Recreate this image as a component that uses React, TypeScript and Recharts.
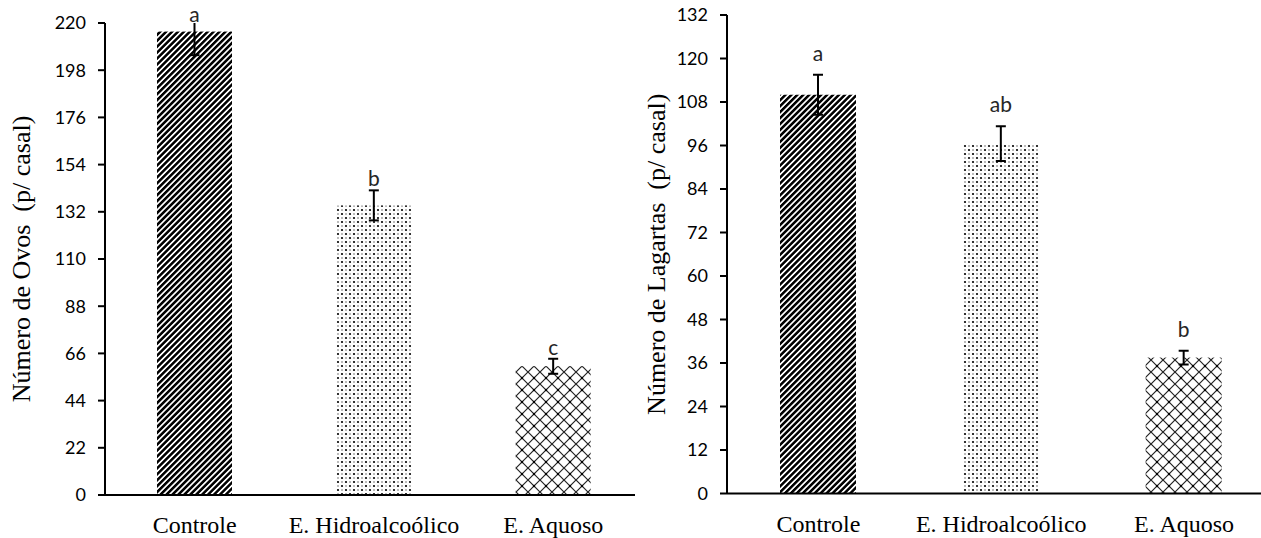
import React from 'react';
import { BarChart, Bar, XAxis, YAxis, Cell, LabelList } from 'recharts';

const categories = ['Controle', 'E. Hidroalcoólico', 'E. Aquoso'];

// Número de ovos (p/ casal)
const ovos = [216, 135, 60];
const ovosErr = [11, 7, 3.5];
const ovosLetters = ['a', 'b', 'c'];
const ovosTicks = [0, 22, 44, 66, 88, 110, 132, 154, 176, 198, 220];

// Número de lagartas (p/ casal)
const lagartas = [110, 96.5, 37.5];
const lagartasErr = [5.5, 4.8, 1.9];
const lagartasLetters = ['a', 'ab', 'b'];
const lagartasTicks = [0, 12, 24, 36, 48, 60, 72, 84, 96, 108, 120, 132];

const patternKeys = ['stripes', 'dots', 'lattice'];

const serif = '"Liberation Serif", "Times New Roman", serif';
const sans = 'Lato, "Open Sans", sans-serif';

function Patterns({ prefix }: { prefix: string }) {
  return (
    <defs>
      <pattern id={`${prefix}-stripes`} patternUnits="userSpaceOnUse" width={4.2} height={4.2} patternTransform="rotate(45)">
        <rect width={4.2} height={4.2} fill="#fff" />
        <rect width={2.5} height={4.2} fill="#000" />
      </pattern>
      <pattern id={`${prefix}-dots`} patternUnits="userSpaceOnUse" width={8} height={8}>
        <rect width={8} height={8} fill="#fff" />
        <circle cx={2} cy={2} r={1.1} fill="#000" />
        <circle cx={6} cy={6} r={1.1} fill="#000" />
        <circle cx={6} cy={2} r={0.7} fill="#444" />
        <circle cx={2} cy={6} r={0.7} fill="#444" />
      </pattern>
      <pattern id={`${prefix}-lattice`} patternUnits="userSpaceOnUse" width={12} height={12}>
        <rect width={12} height={12} fill="#fff" />
        <path d="M0 0 L12 12 M12 0 L0 12" stroke="#222" strokeWidth={1.2} />
        <circle cx={6} cy={6} r={1.2} fill="#000" />
      </pattern>
    </defs>
  );
}

function YTitle({ viewBox, text, dx }: any) {
  const cx = viewBox.x + dx;
  const cy = viewBox.y + viewBox.height / 2;
  return (
    <text x={cx} y={cy} transform={`rotate(-90 ${cx} ${cy})`} textAnchor="middle" fontFamily={serif} fontSize={26} fill="#000" style={{ whiteSpace: 'pre' }}>
      {text}
    </text>
  );
}

function CatTick({ x, y, payload }: any) {
  return (
    <text x={x} y={y + 15} textAnchor="middle" fontFamily={serif} fontSize={24} fill="#000" style={{ fontFamily: serif }}>
      {payload.value}
    </text>
  );
}

// bar rectangle + error bar, clipped to the plot area like the original
const makeBarShape = (errs: number[], values: number[], plotTop: number) => (props: any) => {
  const { x, y, width, height, fill, index } = props;
  const perUnit = height / values[index];
  const cx = x + width / 2;
  const hi = y - errs[index] * perUnit;
  const lo = y + errs[index] * perUnit;
  const top = Math.max(hi, plotTop);
  return (
    <g>
      <rect x={x} y={y} width={width} height={height} fill={fill} />
      <line x1={cx} x2={cx} y1={top} y2={lo} stroke="#000" strokeWidth={2} />
      {hi >= plotTop && <line x1={cx - 5} x2={cx + 5} y1={hi} y2={hi} stroke="#000" strokeWidth={2} />}
      <line x1={cx - 5} x2={cx + 5} y1={lo} y2={lo} stroke="#000" strokeWidth={2} />
    </g>
  );
};

const makeLetter = (letters: string[], errs: number[], values: number[], gap: number) => (props: any) => {
  const { x, y, width, height, index } = props;
  const perUnit = height / values[index];
  const base = Math.max(y - errs[index] * perUnit - gap, 22);
  return (
    <text x={x + width / 2} y={base} textAnchor="middle" fontFamily={sans} fontSize={21} fill="#262626">
      {letters[index]}
    </text>
  );
};

interface PanelProps {
  prefix: string;
  values: number[];
  errs: number[];
  letters: string[];
  ticks: number[];
  title: string;
  top: number;
  bottom: number;
  yWidth: number;
  right: number;
  barSize: number;
  gap: number;
  titleDx: number;
}

function Panel({ prefix, values, errs, letters, ticks, title, top, bottom, yWidth, right, barSize, gap, titleDx }: PanelProps) {
  const data = categories.map((name, i) => ({ name, value: values[i] }));
  const axisStroke = { stroke: '#000', strokeWidth: 2 };
  return (
    <BarChart width={660} height={538} data={data} margin={{ top, right, bottom: 0, left: 0 }} style={{ background: '#fff' }}>
      <Patterns prefix={prefix} />
      <XAxis
        dataKey="name"
        height={538 - bottom}
        tickLine={false}
        axisLine={axisStroke}
        tick={<CatTick />}
        tickMargin={17}
      />
      <YAxis
        width={yWidth}
        domain={[0, ticks[ticks.length - 1]]}
        ticks={ticks}
        interval={0}
        allowDataOverflow
        axisLine={axisStroke}
        tickLine={axisStroke}
        tickSize={7}
        tickMargin={12}
        tick={{ fill: '#000', fontFamily: sans, fontSize: 18 }}
        label={(p: any) => <YTitle {...p} text={title} dx={titleDx} />}
      />
      <Bar dataKey="value" barSize={barSize} isAnimationActive={false} shape={makeBarShape(errs, values, top)}>
        {data.map((_, i) => (
          <Cell key={i} fill={`url(#${prefix}-${patternKeys[i]})`} />
        ))}
        <LabelList dataKey="value" content={makeLetter(letters, errs, values, gap)} />
      </Bar>
    </BarChart>
  );
}

export default function App() {
  return (
    <div style={{ position: 'fixed', left: 0, top: 0, width: 1261, height: 538, overflow: 'hidden', background: '#fff' }}>
      <div style={{ position: 'absolute', left: 0, top: 0 }}>
        <Panel
          prefix="ovos"
          values={ovos}
          errs={ovosErr}
          letters={ovosLetters}
          ticks={ovosTicks}
          title="Número de Ovos  (p/ casal)"
          top={23}
          bottom={495}
          yWidth={105}
          right={17}
          barSize={75}
          gap={4}
          titleDx={30}
        />
      </div>
      <div style={{ position: 'absolute', left: 635, top: 0 }}>
        <Panel
          prefix="lagartas"
          values={lagartas}
          errs={lagartasErr}
          letters={lagartasLetters}
          ticks={lagartasTicks}
          title="Número de Lagartas  (p/ casal)"
          top={15}
          bottom={493.5}
          yWidth={92}
          right={19.5}
          barSize={76}
          gap={14}
          titleDx={30}
        />
      </div>
    </div>
  );
}
